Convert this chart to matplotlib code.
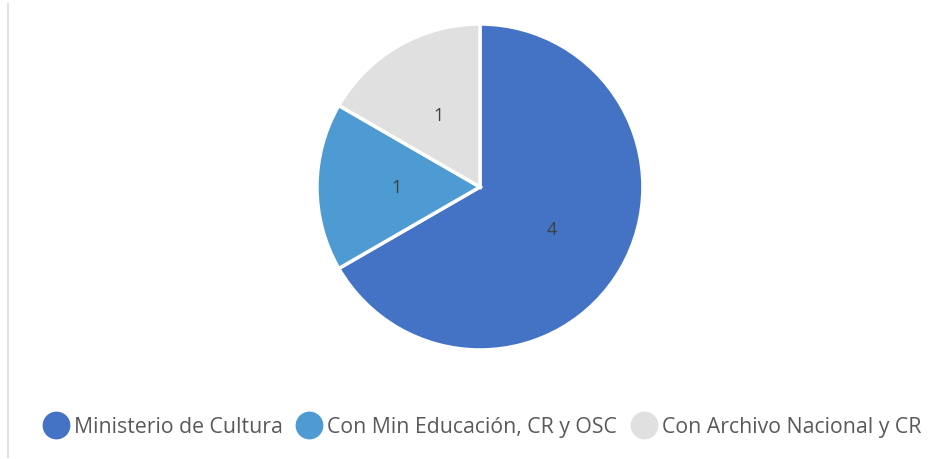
import matplotlib.pyplot as plt
from matplotlib.lines import Line2D

categorias = ['Ministerio de Cultura', 'Con Min Educación, CR y OSC', 'Con Archivo Nacional y CR']
valores = [4, 1, 1]
colores = ['#4472C4', '#4D9BD2', '#E0E0E0']

plt.rcParams['font.family'] = ['Open Sans', 'DejaVu Sans']

fig = plt.figure(figsize=(9.47, 4.6), dpi=100)
ax = fig.add_axes([0.3347, 0.237, 0.3442, 0.7087])

total = sum(valores)
wedges, texts, autotexts = ax.pie(
    valores, colors=colores, startangle=90, counterclock=False,
    autopct=lambda p: '%d' % round(p * total / 100), pctdistance=0.51,
    wedgeprops=dict(edgecolor='white', linewidth=2.5, clip_on=False),
    textprops=dict(color='#404040', fontsize=13))
ax.set_xlim(-1, 1)
ax.set_ylim(-1, 1)
ax.set_aspect('equal')
ax.axis('off')

# linea gris a la izquierda
fig.add_artist(Line2D([7.5 / 947, 7.5 / 947], [2 / 460, 455 / 460],
                      transform=fig.transFigure, color='#D9D9D9', lw=1.2))

handles = [Line2D([], [], marker='o', ls='', markersize=19, color=c) for c in colores]
leg = fig.legend(handles, categorias, loc='center', bbox_to_anchor=(481.5 / 947, 1 - 428 / 460),
                 ncol=3, frameon=False, handletextpad=0.2, columnspacing=0.6,
                 handlelength=1.3, fontsize=15.3)
for t in leg.get_texts():
    t.set_color('#595959')

fig.savefig('out.png', dpi=100)
